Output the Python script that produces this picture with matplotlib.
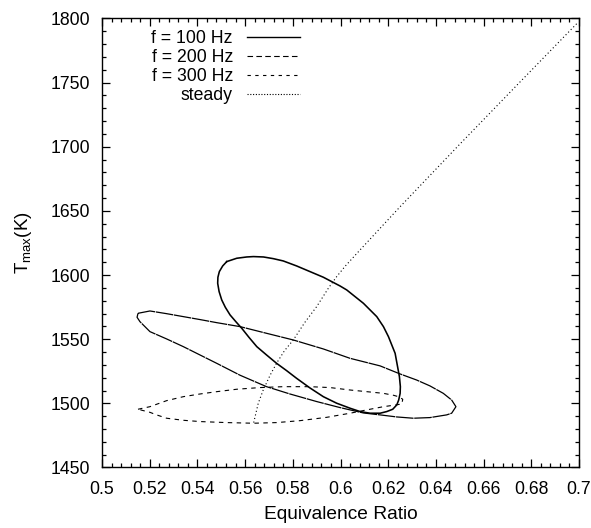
import matplotlib
matplotlib.use("Agg")
import matplotlib.pyplot as plt
from matplotlib.lines import Line2D
from matplotlib.ticker import MultipleLocator

plt.rcParams['font.family'] = ['Liberation Sans', 'DejaVu Sans']
plt.rcParams['mathtext.fontset'] = 'custom'
plt.rcParams['mathtext.rm'] = 'Liberation Sans'
plt.rcParams['mathtext.it'] = 'Liberation Sans'

# f = 100 Hz limit cycle (equivalence ratio, peak temperature)
phi_100 = [0.5523, 0.5565, 0.5607, 0.5635, 0.5677, 0.5718, 0.5760, 0.5816, 0.5872,
           0.5928, 0.5963, 0.5998, 0.6026, 0.6061, 0.6096, 0.6124, 0.6152, 0.6180,
           0.6201, 0.6215, 0.6229, 0.6238, 0.6247, 0.6251, 0.6250, 0.6244, 0.6236,
           0.6219, 0.6194, 0.6166, 0.6124, 0.6082, 0.6040, 0.5984, 0.5928, 0.5872,
           0.5816, 0.5774, 0.5732, 0.5690, 0.5649, 0.5616, 0.5586, 0.5561, 0.5537,
           0.5517, 0.5502, 0.5491, 0.5485, 0.5486, 0.5492, 0.5506, 0.5523]
T_100 = [1610.5, 1613.1, 1614.1, 1614.4, 1614.1, 1612.8, 1611.0, 1607.1, 1602.7,
         1598.3, 1594.9, 1591.5, 1588.4, 1583.2, 1578.0, 1572.8, 1567.6, 1559.8,
         1552.0, 1545.5, 1539.0, 1529.9, 1520.8, 1513.0, 1507.8, 1502.6, 1498.8,
         1495.4, 1493.6, 1492.3, 1492.3, 1493.6, 1496.2, 1500.1, 1505.2, 1512.0,
         1519.5, 1525.5, 1531.2, 1537.7, 1544.2, 1551.5, 1558.5, 1563.7, 1568.9,
         1574.9, 1580.6, 1587.1, 1593.6, 1598.3, 1602.7, 1607.1, 1610.5]

# f = 200 Hz limit cycle
phi_200 = [0.5151, 0.5201, 0.5271, 0.5341, 0.5411, 0.5481, 0.5579, 0.5690, 0.5802,
           0.5928, 0.6040, 0.6166, 0.6250, 0.6319, 0.6375, 0.6431, 0.6466, 0.6484,
           0.6466, 0.6445, 0.6375, 0.6305, 0.6236, 0.6166, 0.6096, 0.5998, 0.5900,
           0.5788, 0.5690, 0.5579, 0.5481, 0.5411, 0.5341, 0.5271, 0.5201, 0.5180,
           0.5159, 0.5147, 0.5151]
T_200 = [1570.2, 1572.0, 1569.9, 1567.6, 1565.3, 1562.9, 1559.8, 1554.6, 1549.4,
         1542.4, 1535.1, 1529.2, 1522.9, 1518.2, 1513.6, 1507.8, 1502.6, 1497.4,
         1492.3, 1491.0, 1488.9, 1488.4, 1489.4, 1491.0, 1492.5, 1496.7, 1501.4,
         1507.3, 1513.0, 1521.9, 1531.2, 1537.7, 1544.2, 1550.2, 1555.9, 1559.8,
         1563.7, 1567.1, 1570.2]

# f = 300 Hz limit cycle
phi_300 = [0.5151, 0.5201, 0.5271, 0.5341, 0.5411, 0.5481, 0.5565, 0.5663, 0.5760,
           0.5872, 0.5956, 0.6040, 0.6110, 0.6180, 0.6222, 0.6243, 0.6261, 0.6257,
           0.6222, 0.6180, 0.6110, 0.6040, 0.5942, 0.5830, 0.5732, 0.5635, 0.5523,
           0.5411, 0.5341, 0.5271, 0.5229, 0.5201, 0.5151]
T_300 = [1495.4, 1497.4, 1502.1, 1505.2, 1507.3, 1509.1, 1511.0, 1512.3, 1513.0,
         1513.0, 1512.3, 1510.4, 1509.1, 1507.8, 1506.3, 1505.2, 1503.2, 1499.5,
         1498.5, 1497.4, 1494.9, 1492.3, 1489.1, 1486.5, 1485.0, 1484.5, 1485.0,
         1485.8, 1486.8, 1488.4, 1491.0, 1493.0, 1495.4]

# steady-state flame temperature
phi_steady = [0.5636, 0.5655, 0.5676, 0.5705, 0.5732, 0.5765, 0.5802, 0.5850, 0.5900,
              0.5950, 0.5984, 0.6020, 0.6082, 0.6250, 0.6500, 0.6750, 0.6996]
T_steady = [1485.0, 1500.0, 1510.4, 1522.0, 1531.3, 1541.0, 1549.4, 1563.0, 1575.4,
            1590.0, 1598.8, 1607.0, 1619.6, 1653.3, 1702.0, 1750.0, 1797.0]

labels = ['f = 100 Hz', 'f = 200 Hz', 'f = 300 Hz', 'steady']
xtick_labels = ['0.5', '0.52', '0.54', '0.56', '0.58', '0.6',
                '0.62', '0.64', '0.66', '0.68', '0.7']

fig = plt.figure(figsize=(5.91, 5.28), dpi=100)
ax = fig.add_axes([0.1726, 0.1146, 0.8071, 0.8504])

ax.plot(phi_100, T_100, color='black', lw=1.15, solid_joinstyle='round')
ax.plot(phi_200, T_200, color='black', lw=0.9, linestyle=(0, (14, 0.6)))
ax.plot(phi_300, T_300, color='black', lw=0.8, linestyle=(0, (4, 4)))
ax.plot(phi_steady, T_steady, color='black', lw=0.8, linestyle=(0, (1, 2.3)))

ax.set_xlim(0.5, 0.7)
ax.set_ylim(1450, 1800)
ax.set_xticks([0.5 + 0.02 * i for i in range(len(xtick_labels))])
ax.set_xticklabels(xtick_labels)
ax.xaxis.set_minor_locator(MultipleLocator(0.004))
ax.yaxis.set_major_locator(MultipleLocator(50))
ax.yaxis.set_minor_locator(MultipleLocator(10))

ax.tick_params(which='both', direction='in', top=True, right=True,
               labelsize=12.7, width=0.9, colors='black')
ax.tick_params(which='major', length=6)
ax.tick_params(which='minor', length=3)
ax.tick_params(axis='x', which='major', pad=9.5)
ax.tick_params(axis='y', which='major', pad=8.5)
for s in ax.spines.values():
    s.set_linewidth(1.0)

ax.set_xlabel('Equivalence Ratio', fontsize=13.8, labelpad=6)
ax.set_ylabel(r'$\mathregular{T_{max}(K)}$', fontsize=13.5, labelpad=12)

handles = [
    Line2D([], [], color='black', lw=1.0),
    Line2D([], [], color='black', lw=0.8, linestyle=(0, (5, 3))),
    Line2D([], [], color='black', lw=0.8, linestyle=(0, (3, 4))),
    Line2D([], [], color='black', lw=0.8, linestyle=(0, (1, 1.5))),
]
ax.legend(handles, labels, loc='upper right', bbox_to_anchor=(0.415, 0.975),
          frameon=False, markerfirst=False, fontsize=12.7, handlelength=3.0,
          handletextpad=0.8, labelspacing=0.12, borderpad=0, borderaxespad=0)

fig.savefig('out.png', dpi=100)
